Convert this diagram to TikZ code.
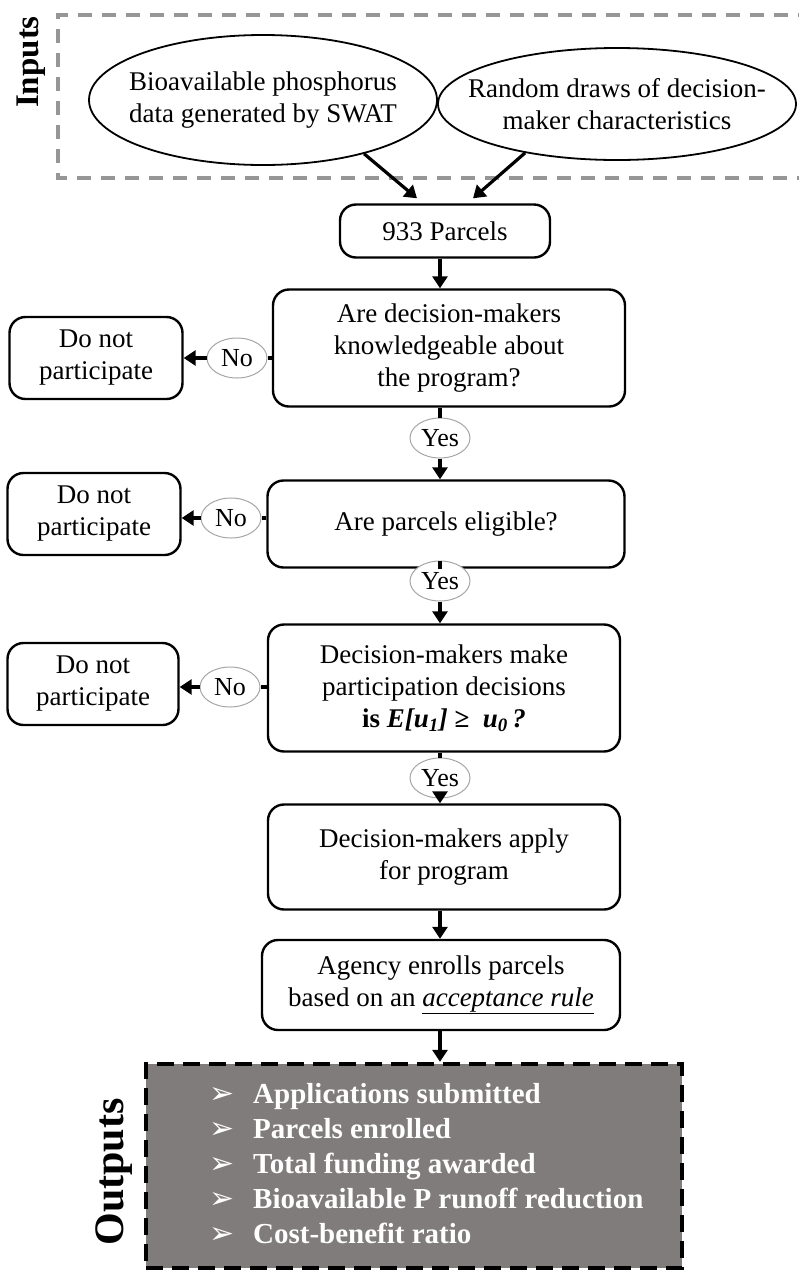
\documentclass[tikz,border=0pt]{standalone}
\usepackage{fontspec}
\setmainfont{Liberation Serif}
\newfontfamily\symfont{DejaVu Sans}
\usetikzlibrary{shapes.geometric,arrows.meta,calc}
\definecolor{outgray}{RGB}{128,124,123}
\definecolor{inpgray}{RGB}{150,150,150}
\begin{document}
\begin{tikzpicture}[x=1pt,y=-1pt,
 txt/.style={font=\fontsize{27}{32}\selectfont, align=center},
 box/.style={txt, draw, line width=2.4pt, rounded corners=16pt, fill=white, inner sep=0pt},
 inell/.style={ellipse, draw, line width=1.8pt, inner sep=0pt},
 lbl/.style={ellipse, draw=gray!70, line width=1pt, fill=white, font=\fontsize{26}{28}\selectfont, minimum width=60pt, minimum height=40pt, inner sep=0pt},
 arr/.style={line width=3.2pt, -{Triangle[length=12pt,width=15pt]}},
 ln/.style={line width=3.2pt},
 side/.style={rotate=90},
]
\useasboundingbox (0,0) rectangle (799,1270);
\clip (0,0) rectangle (799,1270);

% Inputs frame
\draw[inpgray, line width=4pt, dash pattern=on 14pt off 10pt] (812,15) -- (58,15) -- (58,178) -- (812,178);
\node[side, font=\bfseries\fontsize{33}{33}\selectfont] (inlbl) at (31,62) {Inputs};

\node[inell, minimum width=348pt, minimum height=130pt, label={[txt]center:Bioavailable phosphorus\\data generated by SWAT}] (ell1) at (263,100) {};
\node[inell, minimum width=358pt, minimum height=112pt, label={[txt]center:Random draws of decision-\\maker characteristics}] (ell2) at (617,104) {};

% main column
\node[box, minimum width=210pt, minimum height=53pt] (b0) at (445,231) {933 Parcels};
\node[box, minimum width=352pt, minimum height=117pt] (b1) at (449,348) {Are decision-makers\\knowledgeable about\\the program?};
\node[box, minimum width=357pt, minimum height=87pt] (b2) at (446,524) {Are parcels eligible?};
\node[box, minimum width=352pt, minimum height=127pt] (b3) at (444,688) {Decision-makers make\\participation decisions\\\textbf{is \textit{E[u\textsubscript{1}]} ≥ \ \textit{u\textsubscript{0}\,?}}};
\node[box, minimum width=352pt, minimum height=105pt] (b4) at (444,857) {Decision-makers apply\\for program};
\node[box, minimum width=358pt, minimum height=90pt] (b5) at (441,985) {Agency enrolls parcels\\based on an \underline{\textit{acceptance rule}}};

% side boxes
\node[box, minimum width=173pt, minimum height=82pt] (dnp1) at (96,358) {Do not\\participate};
\node[box, minimum width=173pt, minimum height=82pt] (dnp2) at (94,514) {Do not\\participate};
\node[box, minimum width=171pt, minimum height=82pt] (dnp3) at (93,684) {Do not\\participate};

% labels
\node[lbl] (no1) at (237,358) {No};
\node[lbl] (no2) at (231,518) {No};
\node[lbl] (no3) at (230,687) {No};
\node[lbl] (yes1) at (440,438) {Yes};
\node[lbl] (yes2) at (440,581) {Yes};
\node[lbl] (yes3) at (440,778) {Yes};

% outputs
\node[draw, line width=4.5pt, dash pattern=on 17pt off 9pt, fill=outgray, minimum width=536pt, minimum height=204pt, inner sep=0pt] (out) at (414,1166) {};
\node[side, font=\bfseries\fontsize{42}{42}\selectfont] (outlbl) at (114,1172) {Outputs};
\node[anchor=north west, text=white, font=\bfseries\fontsize{29}{35}\selectfont, align=left, inner sep=0pt] (list) at (209,1083) {%
\makebox[44pt][l]{\symfont\fontsize{30}{30}\selectfont ➢}Applications submitted\\
\makebox[44pt][l]{\symfont\fontsize{30}{30}\selectfont ➢}Parcels enrolled\\
\makebox[44pt][l]{\symfont\fontsize{30}{30}\selectfont ➢}Total funding awarded\\
\makebox[44pt][l]{\symfont\fontsize{30}{30}\selectfont ➢}Bioavailable P runoff reduction\\
\makebox[44pt][l]{\symfont\fontsize{30}{30}\selectfont ➢}Cost-benefit ratio};

% connectors
\draw[arr] (ell1.-28) -- ($(b0.north)+(-28,-5)$);
\draw[arr] (ell2.-152) -- ($(b0.north)+(28,-5)$);
\draw[arr] (b0.south -| yes1) -- (yes1 |- b1.north);

\draw[ln] (b1.south -| yes1) -- (yes1.north);
\draw[arr] (yes1.south) -- (yes1 |- b2.north);
\draw[ln] (b2.south -| yes2) -- (yes2.north);
\draw[arr] (yes2.south) -- (yes2 |- b3.north);
\draw[ln] (b3.south -| yes3) -- (yes3.north);
\draw[arr] (yes3.south) -- (yes3 |- b4.north);
\draw[arr] (b4.south -| yes3) -- (yes3 |- b5.north);
\draw[arr] (b5.south -| yes3) -- (yes3 |- out.north);

\draw[ln] (no1.east -| b1.west) -- (no1.east);
\draw[arr] (no1.west) -- (no1.west -| dnp1.east);
\draw[ln] (no2.east -| b2.west) -- (no2.east);
\draw[arr] (no2.west) -- (no2.west -| dnp2.east);
\draw[ln] (no3.east -| b3.west) -- (no3.east);
\draw[arr] (no3.west) -- (no3.west -| dnp3.east);
\end{tikzpicture}
\end{document}
